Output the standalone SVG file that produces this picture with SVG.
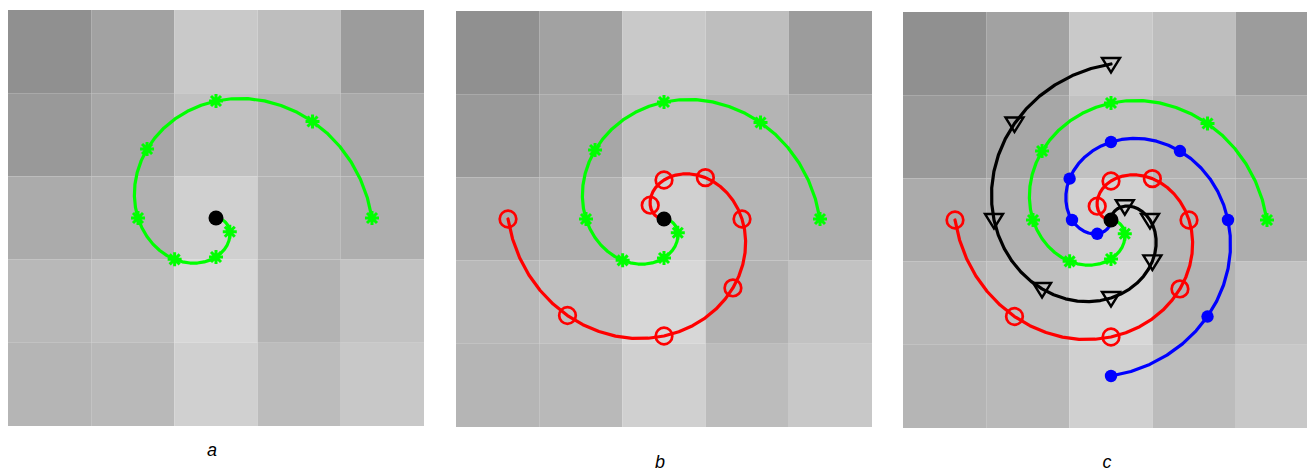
<svg xmlns="http://www.w3.org/2000/svg" xmlns:xlink="http://www.w3.org/1999/xlink" width="1307" height="470" viewBox="0 0 1307 470">
<style>
.ln{fill:none;stroke-width:3.2;stroke-linejoin:round;stroke-linecap:round}
.g{stroke:#00ff00}.r{stroke:#ff0000}.b{stroke:#0000ff}.k{stroke:#000}
.oc{fill:none;stroke:#ff0000;stroke-width:2.7}
.dot{fill:#0000ff}
.tri{fill:none;stroke:#000;stroke-width:2.4;stroke-linejoin:miter}
.lbl{font-family:"Liberation Sans",Arial,sans-serif;font-style:italic;font-size:18px;fill:#000;text-anchor:middle}
</style>
<defs>
<g id="grid">
<rect x="0" y="0" width="83.2" height="83.2" fill="#909090"/>
<rect x="83.2" y="0" width="83.2" height="83.2" fill="#a2a2a2"/>
<rect x="166.4" y="0" width="83.2" height="83.2" fill="#c9c9c9"/>
<rect x="249.6" y="0" width="83.2" height="83.2" fill="#bebebe"/>
<rect x="332.8" y="0" width="83.2" height="83.2" fill="#9c9c9c"/>
<rect x="0" y="83.2" width="83.2" height="83.2" fill="#999999"/>
<rect x="83.2" y="83.2" width="83.2" height="83.2" fill="#a7a7a7"/>
<rect x="166.4" y="83.2" width="83.2" height="83.2" fill="#c1c1c1"/>
<rect x="249.6" y="83.2" width="83.2" height="83.2" fill="#b4b4b4"/>
<rect x="332.8" y="83.2" width="83.2" height="83.2" fill="#a9a9a9"/>
<rect x="0" y="166.4" width="83.2" height="83.2" fill="#ababab"/>
<rect x="83.2" y="166.4" width="83.2" height="83.2" fill="#b1b1b1"/>
<rect x="166.4" y="166.4" width="83.2" height="83.2" fill="#d0d0d0"/>
<rect x="249.6" y="166.4" width="83.2" height="83.2" fill="#b5b5b5"/>
<rect x="332.8" y="166.4" width="83.2" height="83.2" fill="#aeaeae"/>
<rect x="0" y="249.6" width="83.2" height="83.2" fill="#b8b8b8"/>
<rect x="83.2" y="249.6" width="83.2" height="83.2" fill="#bfbfbf"/>
<rect x="166.4" y="249.6" width="83.2" height="83.2" fill="#d7d7d7"/>
<rect x="249.6" y="249.6" width="83.2" height="83.2" fill="#b3b3b3"/>
<rect x="332.8" y="249.6" width="83.2" height="83.2" fill="#c2c2c2"/>
<rect x="0" y="332.8" width="83.2" height="83.2" fill="#b5b5b5"/>
<rect x="83.2" y="332.8" width="83.2" height="83.2" fill="#b9b9b9"/>
<rect x="166.4" y="332.8" width="83.2" height="83.2" fill="#d0d0d0"/>
<rect x="249.6" y="332.8" width="83.2" height="83.2" fill="#bcbcbc"/>
<rect x="332.8" y="332.8" width="83.2" height="83.2" fill="#c8c8c8"/>
</g>
<path id="sp" d="M0,0 L3.22,0.42 L6.28,1.68 L9.01,3.73 L11.26,6.5 L12.89,9.89 L13.79,13.79 L13.85,18.05 L13,22.52 L11.19,27.02 L8.41,31.39 L4.67,35.44 L0,39 L-5.51,41.89 L-11.78,43.95 L-18.66,45.04 L-26,45.03 L-33.63,43.83 L-41.37,41.37 L-48.99,37.59 L-56.29,32.5 L-63.05,26.12 L-69.06,18.5 L-74.11,9.76 L-78,0 L-80.55,-10.61 L-81.62,-21.87 L-81.07,-33.58 L-78.81,-45.5 L-74.77,-57.38 L-68.94,-68.94 L-61.33,-79.93 L-52,-90.07 L-41.04,-99.09 L-28.6,-106.73 L-14.85,-112.78 L0,-117 L15.7,-119.22 L31.96,-119.29 L48.5,-117.1 L65,-112.58 L81.12,-105.71 L96.52,-96.52 L110.87,-85.07 L123.84,-71.5 L135.12,-55.97 L144.4,-38.69 L151.44,-19.94 L156,0"/>
<path id="star" d="M-7,0H7M0,-7V7M-5,-5L5,5M-5,5L5,-5" fill="none" stroke="#00ff00" stroke-width="3"/>
<g id="greenset">
<use xlink:href="#sp" class="ln g"/>
<use xlink:href="#star" x="13.79" y="13.79"/>
<use xlink:href="#star" x="0" y="39"/>
<use xlink:href="#star" x="-41.37" y="41.37"/>
<use xlink:href="#star" x="-78" y="0"/>
<use xlink:href="#star" x="-68.94" y="-68.94"/>
<use xlink:href="#star" x="0" y="-117"/>
<use xlink:href="#star" x="96.52" y="-96.52"/>
<use xlink:href="#star" x="156" y="0"/>
</g>
<g id="redset">
<use xlink:href="#sp" class="ln r" transform="rotate(180)"/>
<circle class="oc" cx="-13.79" cy="-13.79" r="8.3"/>
<circle class="oc" cx="0" cy="-39" r="8.3"/>
<circle class="oc" cx="41.37" cy="-41.37" r="8.3"/>
<circle class="oc" cx="78" cy="0" r="8.3"/>
<circle class="oc" cx="68.94" cy="68.94" r="8.3"/>
<circle class="oc" cx="0" cy="117" r="8.3"/>
<circle class="oc" cx="-96.52" cy="96.52" r="8.3"/>
<circle class="oc" cx="-156" cy="0" r="8.3"/>
</g>
<path id="tri" d="M-9,-6 L9,-6 L0,8.5 Z" class="tri"/>
</defs>

<g id="panel-a">
<use xlink:href="#grid" transform="translate(8,10)"/>
<g id="a-spirals" transform="translate(216,218)">
<use xlink:href="#greenset"/>
<circle cx="0" cy="0" r="7.5" fill="#000"/>
</g>
<text class="lbl" x="212" y="456">a</text>
</g>

<g id="panel-b">
<use xlink:href="#grid" transform="translate(456,11)"/>
<g id="b-spirals" transform="translate(664,219)">
<use xlink:href="#greenset"/>
<use xlink:href="#redset"/>
<circle cx="0" cy="0" r="7.5" fill="#000"/>
</g>
<text class="lbl" x="660" y="468">b</text>
</g>

<g id="panel-c">
<use xlink:href="#grid" transform="translate(903,12)"/>
<g id="c-spirals" transform="translate(1111,220)">
<use xlink:href="#greenset"/>
<use xlink:href="#redset"/>
<g id="blueset">
<use xlink:href="#sp" class="ln b" transform="rotate(90)"/>
<circle class="dot" cx="-13.79" cy="13.79" r="6.2"/>
<circle class="dot" cx="-39" cy="0" r="6.2"/>
<circle class="dot" cx="-41.37" cy="-41.37" r="6.2"/>
<circle class="dot" cx="0" cy="-78" r="6.2"/>
<circle class="dot" cx="68.94" cy="-68.94" r="6.2"/>
<circle class="dot" cx="117" cy="0" r="6.2"/>
<circle class="dot" cx="96.52" cy="96.52" r="6.2"/>
<circle class="dot" cx="0" cy="156" r="6.2"/>
</g>
<g id="blackset">
<use xlink:href="#sp" class="ln k" transform="rotate(-90)"/>
<use xlink:href="#tri" x="13.79" y="-13.79"/>
<use xlink:href="#tri" x="39" y="0"/>
<use xlink:href="#tri" x="41.37" y="41.37"/>
<use xlink:href="#tri" x="0" y="78"/>
<use xlink:href="#tri" x="-68.94" y="68.94"/>
<use xlink:href="#tri" x="-117" y="0"/>
<use xlink:href="#tri" x="-96.52" y="-96.52"/>
<use xlink:href="#tri" x="0" y="-156"/>
</g>
<circle cx="0" cy="0" r="7.5" fill="#000"/>
</g>
<text class="lbl" x="1107" y="468">c</text>
</g>
</svg>
